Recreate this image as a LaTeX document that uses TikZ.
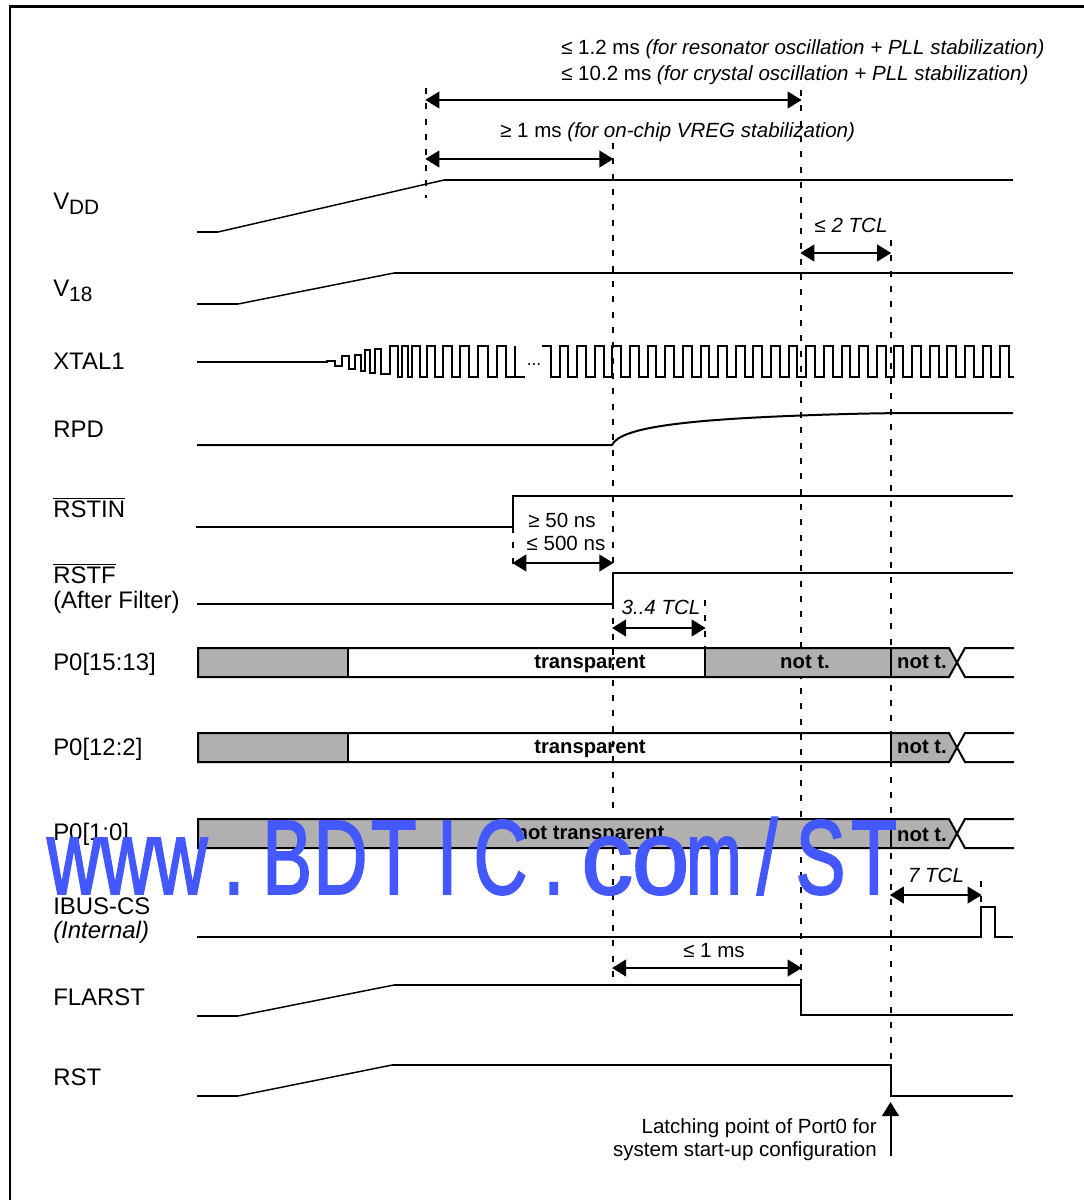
\documentclass[tikz,border=0pt]{standalone}
\usepackage{fontspec}
\usetikzlibrary{arrows.meta}
\setmainfont{Liberation Sans}
\newfontfamily\wmfont[FakeStretch=0.70,FakeBold=1.6]{Liberation Sans}
\newfontfamily\wmwide[FakeStretch=0.98,FakeBold=1.6]{Liberation Sans}
\newfontfamily\wmslim[FakeStretch=0.62,FakeBold=1.6]{Liberation Sans}
\newcommand{\wmc}[1]{\makebox[40pt][c]{#1}}
\newcommand{\sigsub}[1]{\raisebox{-4pt}{\fontsize{15.6}{18}\selectfont #1}}
\definecolor{bargray}{HTML}{B0B0B0}
\definecolor{wmblue}{HTML}{4358FF}
\tikzset{
  sig/.style={line width=1.5pt,line cap=butt,line join=miter,miter limit=4},
  thin sig/.style={line width=1.1pt},
  guide/.style={line width=1.5pt,dash pattern=on 4.5pt off 7pt},
  span/.style={line width=1.5pt,{Triangle[length=10.5pt,width=12.5pt]}-{Triangle[length=10.5pt,width=12.5pt]},shorten <=-0.5pt,shorten >=-0.5pt},
  lab/.style={anchor=base west,inner sep=0pt,font=\fontsize{17.95}{20}\selectfont},
  note/.style={anchor=base,inner sep=0pt,font=\fontsize{15.4}{19}\selectfont},
  bold/.style={anchor=base,inner sep=0pt,font=\fontsize{15.2}{19}\selectfont\bfseries},
  greybar/.style={fill=bargray,draw=none},
}
\begin{document}
\begin{tikzpicture}[x=0.75pt,y=-0.75pt]
\useasboundingbox (0,0) rectangle (1084,1200);
% frame
\draw[line width=2pt] (10,1200) -- (10,6.5) -- (1084,6.5);
% guide lines
\draw[guide] (426,88) -- (426,198);
\draw[guide] (612.7,143) -- (612.7,980);
\draw[guide] (801,90) -- (801,1015);
\draw[guide] (890.5,240) -- (890.5,1097);
\draw[guide] (705,600) -- (705,648);
\draw[guide] (981,881) -- (981,907);
\draw[guide] (513,527) -- (513,571);
% bars
\fill[greybar] (198,648) rectangle (348,677);
\fill[greybar] (705,648) rectangle (891,677);
\fill[greybar] (891,648) -- (948,648) -- (956,662.5) -- (948,677) -- (891,677) -- cycle;
\fill[greybar] (198,733) rectangle (348,762);
\fill[greybar] (891,733) -- (948,733) -- (956,747.5) -- (948,762) -- (891,762) -- cycle;
\fill[greybar] (198,819) rectangle (891,848);
\fill[greybar] (891,819) -- (948,819) -- (956,833.5) -- (948,848) -- (891,848) -- cycle;
% bar outlines
\foreach \t/\b in {648/677,733/762,819/848}{
  \draw[sig] (1014,\t) -- (965,\t) -- (949,\b) -- (198,\b) -- (198,\t) -- (949,\t) -- (965,\b) -- (1014,\b);
  \draw[sig] (891,\t) -- (891,\b);
}
\draw[sig] (348,648) -- (348,677);
\draw[sig] (705,648) -- (705,677);
\draw[sig] (348,733) -- (348,762);
% signals
\draw[sig] (197,232) -- (218,232);
\draw[thin sig] (218,232) -- (444,180);
\draw[sig] (444,180) -- (1013,180);
\draw[sig] (197,304) -- (238,304);
\draw[thin sig] (238,304) -- (394,273);
\draw[sig] (394,273) -- (1013,273);
% XTAL1
\draw[sig] (197,362) -- (327,362) -- (327,360.5) -- (335,360.5) -- (335,366) -- (342,366) -- (342,356) -- (349,356) -- (349,369) -- (355,369) -- (355,355) -- (361,355) -- (361,371) -- (365,371) -- (365,350) -- (370,350) -- (370,373) -- (375,373) -- (375,349) -- (381,349) -- (381,374) -- (390,374) -- (390,346) -- (398,346) -- (398,377) -- (402,377) -- (402,346) -- (408,346) -- (408,377) -- (412,377) -- (412,346) -- (420,346) -- (420,377) -- (427,377) -- (427,346) -- (435,346) -- (435,377) -- (443,377) -- (443,346) -- (452,346) -- (452,377) -- (460,377) -- (460,346) -- (469,346) -- (469,377) -- (478,377) -- (478,346) -- (488,346) -- (488,377) -- (497,377) -- (497,346) -- (506,346) -- (506,377) -- (515,377) -- (515,346) -- (515,377) -- (525,377);
\draw[sig] (542,346) -- (550.7,346) -- (550.7,377)
  \foreach \k in {0,...,25}{ -- ({559.5+\k*17.63},377) -- ({559.5+\k*17.63},346) -- ({568.3+\k*17.63},346) -- ({568.3+\k*17.63},377) } -- (1014,377);
\node[note,font=\fontsize{13}{15}\selectfont] (dots) at (534,365) {...};
% RPD
\draw[sig] (197,445) -- (612,445) .. controls (620,428) and (680,420) .. (801,415.5) .. controls (840,414) and (880,413) .. (920,413) -- (1013,413);
% RSTIN, RSTF
\draw[sig] (196,527) -- (513,527) -- (513,496) -- (1013,496);
\draw[sig] (197,604) -- (612.7,604) -- (612.7,573) -- (1013,573);
% IBUS
\draw[sig] (197,937) -- (981,937) -- (981,907) -- (995,907) -- (995,937) -- (1013,937);
% FLARST, RST
\draw[sig] (197,1016) -- (238,1016);
\draw[thin sig] (238,1016) -- (394,985);
\draw[sig] (394,985) -- (801,985) -- (801,1015) -- (1013,1015);
\draw[sig] (197,1096) -- (238,1096);
\draw[thin sig] (238,1096) -- (392,1065);
\draw[sig] (392,1065) -- (890.5,1065) -- (890.5,1096) -- (1013,1096);
% spans
\coordinate (a1) at (426,100); \coordinate (a2) at (801,100);
\coordinate (b1) at (426,159); \coordinate (b2) at (612.7,159);
\coordinate (c1) at (801,253); \coordinate (c2) at (890.5,253);
\coordinate (d1) at (513,563); \coordinate (d2) at (612.7,563);
\coordinate (e1) at (612.7,628); \coordinate (e2) at (705,628);
\coordinate (f1) at (890.5,895); \coordinate (f2) at (981,895);
\coordinate (g1) at (612.7,968); \coordinate (g2) at (801,968);
\foreach \p/\q in {a1/a2,b1/b2,c1/c2,d1/d2,e1/e2,f1/f2,g1/g2}{\draw[span] (\p) -- (\q);}
\coordinate (u1) at (890.5,1156); \coordinate (u2) at (890.5,1102);
\draw[line width=1.5pt,-{Triangle[length=10.5pt,width=12.5pt]}] (u1) -- (u2);
% labels
\node[lab] (vdd) at (53,209) {V\sigsub{DD}};
\node[lab] (v18) at (53,296) {V\sigsub{18}};
\node[lab] (xtal) at (53,369) {XTAL1};
\node[lab] (rpd) at (53,437) {RPD};
\node[lab] (rstin) at (53,517) {$\overline{\mbox{RSTIN}}$};
\node[lab] (rstf) at (53,583) {$\overline{\mbox{RSTF}}$};
\node[lab] (after) at (53,608) {(After Filter)};
\node[lab] (p15) at (53,670) {P0[15:13]};
\node[lab] (p12) at (53,755) {P0[12:2]};
\node[lab] (p1) at (53,840) {P0[1:0]};
\node[lab] (ibus) at (53,914) {IBUS-CS};
\node[lab] (int) at (53,938) {\itshape (Internal)};
\node[lab] (fla) at (53,1005) {FLARST};
\node[lab] (rst) at (53,1085) {RST};
% notes
\node[note,anchor=base west] (n1) at (561,54) {≤ 1.2 ms \itshape (for resonator oscillation + PLL stabilization)};
\node[note,anchor=base west] (n2) at (561,80) {≤ 10.2 ms \itshape (for crystal oscillation + PLL stabilization)};
\node[note,anchor=base west] (n3) at (500,137) {≥ 1 ms \itshape (for on-chip VREG stabilization)};
\node[note] (n4) at (851,232) {\itshape ≤ 2 TCL};
\node[note] (n5) at (562,527) {≥ 50 ns};
\node[note] (n6) at (566,550) {≤ 500 ns};
\node[note] (n7) at (661,614) {\itshape 3..4 TCL};
\node[note] (n8) at (936,882) {\itshape 7 TCL};
\node[note] (n9) at (714,957) {≤ 1 ms};
\node[note,anchor=base east] (n10) at (877,1133) {Latching point of Port0 for};
\node[note,anchor=base east] (n11) at (877,1156) {system start-up configuration};
% bar texts
\node[bold] (t1) at (590,668) {transparent};
\node[bold] (t2) at (805,668) {not t.};
\node[bold] (t3) at (922,668) {not t.};
\node[bold] (t4) at (590,753) {transparent};
\node[bold] (t5) at (922,753) {not t.};
\node[bold] (t6) at (590,839) {not transparent};
\node[bold] (t7) at (922,841) {not t.};
% watermark
\node[anchor=base west,inner sep=0pt,text=wmblue] (wm) at (47,894) {\fontsize{79.6}{90}\selectfont\wmfont\wmc{w}\wmc{w}\wmc{w}\wmc{.}\wmc{B}\wmc{D}\wmc{T}\wmc{I}\wmc{C}\wmc{.}{\wmwide\wmc{c}\wmc{o}}{\wmslim\wmc{m}}\wmc{/}\wmc{S}\wmc{T}};
\end{tikzpicture}
\end{document}
